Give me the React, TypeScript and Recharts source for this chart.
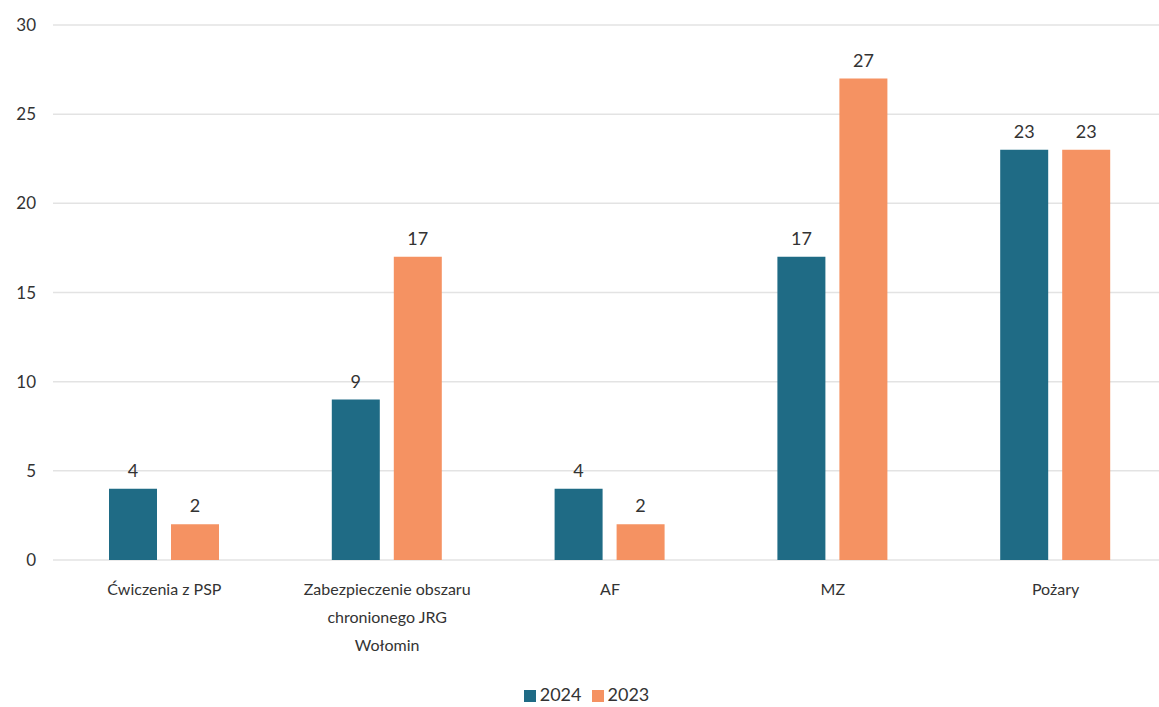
import { BarChart, Bar, XAxis, YAxis, CartesianGrid, Legend, LabelList } from "recharts";

const categories = ["Ćwiczenia z PSP", "Zabezpieczenie obszaru chronionego JRG Wołomin", "AF", "MZ", "Pożary"];
const seriesNames = ["2024", "2023"];
const values2024 = [4, 9, 4, 17, 23];
const values2023 = [2, 17, 2, 27, 23];
const yTicks = [0, 5, 10, 15, 20, 25, 30];

const data = categories.map((name, i) => ({ name, y2024: values2024[i], y2023: values2023[i] }));

const FONT = "Lato, 'Open Sans', sans-serif";

// simple word wrap by character count
const wrap = (text: string, maxChars: number) => {
  const lines: string[] = [];
  let cur = "";
  text.split(" ").forEach((w) => {
    const next = cur ? cur + " " + w : w;
    if (next.length > maxChars && cur) {
      lines.push(cur);
      cur = w;
    } else {
      cur = next;
    }
  });
  if (cur) lines.push(cur);
  return lines;
};

const CategoryTick = (props: any) => {
  const { x, y, payload } = props;
  const lines = wrap(payload.value, 22);
  return (
    <text x={x} y={y} textAnchor="middle" fill="#333" fontSize={16} fontFamily={FONT}>
      {lines.map((l, i) => (
        <tspan key={i} x={x} dy={i === 0 ? 27 : 28}>{l}</tspan>
      ))}
    </text>
  );
};

const App = () => {
  return (
    <div style={{ position: "absolute", left: 0, top: 0, background: "#fff" }}>
      <BarChart
        width={1159}
        height={707}
        data={data}
        margin={{ top: 25, right: -8, left: 0, bottom: 0 }}
        barGap={14}
        barSize={48}
      >
        <CartesianGrid vertical={false} stroke="#e3e3e3" strokeWidth={1.5} />
        <XAxis
          dataKey="name"
          axisLine={false}
          tickLine={false}
          height={117}
          interval={0}
          tick={<CategoryTick />}
        />
        <YAxis
          width={53}
          domain={[0, 30]}
          ticks={yTicks}
          axisLine={false}
          tickLine={false}
          tickMargin={11}
          tick={{ fontSize: 17, fill: "#333", fontFamily: FONT }}
        />
        <Legend
          height={30}
          iconType="square"
          iconSize={12}
          itemSorter={(item: any) => seriesNames.indexOf(item.value)}
          wrapperStyle={{ fontFamily: FONT, fontSize: 18, color: "#333", bottom: -6, left: 8 }}
          formatter={(v) => <span style={{ color: "#333" }}>{v}</span>}
        />
        <Bar dataKey="y2024" name={seriesNames[0]} fill="#1F6B85" isAnimationActive={false}>
          <LabelList dataKey="y2024" position="top" offset={12} fill="#333" fontSize={18} fontFamily={FONT} />
        </Bar>
        <Bar dataKey="y2023" name={seriesNames[1]} fill="#F59262" isAnimationActive={false}>
          <LabelList dataKey="y2023" position="top" offset={12} fill="#333" fontSize={18} fontFamily={FONT} />
        </Bar>
      </BarChart>
    </div>
  );
};

export default App;
